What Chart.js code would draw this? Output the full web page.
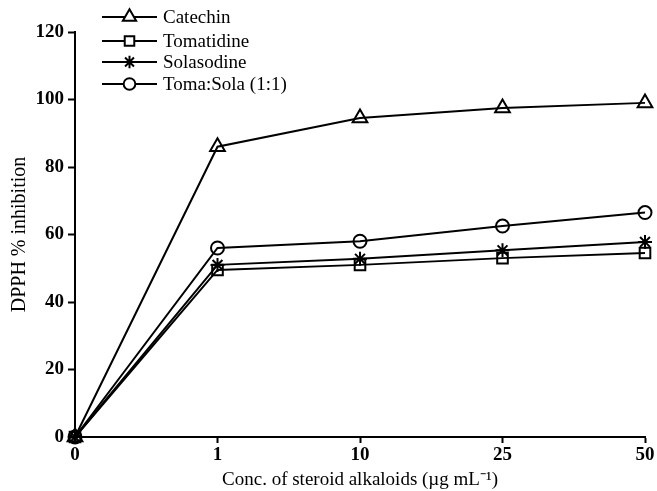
<!DOCTYPE html>
<html lang="en">
<head>
    <meta charset="UTF-8">
    <title>DPPH % inhibition</title>
    <script src="https://cdn.jsdelivr.net/npm/chart.js"></script>
    <style>
        body {
            margin: 0;
            padding: 0;
            background: #ffffff;
        }

        .chart-box {
            width: 657px;
            height: 491px;
            position: relative;
        }
    </style>
</head>
<body>
    <div class="chart-box">
        <canvas id="dpphChart"></canvas>
    </div>

    <script>
        // Data
        const concLabels = ['0', '1', '10', '25', '50'];
        const catechin = [0, 86, 94.5, 97.5, 99];
        const tomatidine = [0, 49.5, 51, 53, 54.5];
        const solasodine = [0, 51, 52.8, 55.3, 57.8];
        const tomaSola = [0, 56, 58, 62.5, 66.5];
        const yTicks = [0, 20, 40, 60, 80, 100, 120];

        const serif = "'Liberation Serif', 'Times New Roman', serif";

        function makeSet(label, data, style, radius) {
            return {
                label: label,
                data: data,
                borderColor: '#000',
                borderWidth: 2,
                pointStyle: style,
                pointRadius: radius,
                pointBorderWidth: 2,
                pointBorderColor: '#000',
                pointBackgroundColor: 'rgba(255,255,255,0)',
                tension: 0,
                clip: false
            };
        }

        const datasets = [
            makeSet('Catechin', catechin, 'triangle', 8.5),
            makeSet('Tomatidine', tomatidine, 'rect', 7.5),
            makeSet('Solasodine', solasodine, 'star', 7),
            makeSet('Toma:Sola (1:1)', tomaSola, 'circle', 6.5)
        ];

        // legend drawn as line + marker, like the printed figure
        const lineLegend = {
            id: 'lineLegend',
            afterDraw(chart) {
                const c = chart.ctx;
                const x0 = 102, x1 = 157, rowY = [17, 41, 62, 84];
                c.save();
                chart.data.datasets.forEach((ds, i) => {
                    const y = rowY[i];
                    c.strokeStyle = '#000';
                    c.lineWidth = 2;
                    c.beginPath();
                    c.moveTo(x0, y);
                    c.lineTo(x1, y);
                    c.stroke();
                    c.fillStyle = '#fff';
                    c.lineWidth = 2;
                    Chart.helpers.drawPoint(c, {
                        pointStyle: ds.pointStyle,
                        radius: ds.pointRadius * 0.9,
                        rotation: 0,
                        borderWidth: 2
                    }, (x0 + x1) / 2, y);
                    c.fillStyle = '#000';
                    c.font = '19px ' + serif;
                    c.textBaseline = 'middle';
                    c.fillText(ds.label, x1 + 6, y + 1);
                });
                c.restore();
            }
        };

        const ctx = document.getElementById('dpphChart').getContext('2d');
        const dpphChart = new Chart(ctx, {
            type: 'line',
            data: {
                labels: concLabels,
                datasets: datasets
            },
            options: {
                responsive: true,
                maintainAspectRatio: false,
                animation: false,
                layout: {
                    padding: { left: 0, right: 12, top: 32, bottom: 0 }
                },
                plugins: {
                    legend: { display: false },
                    tooltip: { enabled: false }
                },
                scales: {
                    x: {
                        offset: false,
                        border: { color: '#000', width: 2 },
                        grid: {
                            drawOnChartArea: false,
                            tickLength: 6,
                            tickWidth: 2,
                            tickColor: '#000'
                        },
                        ticks: {
                            color: '#000',
                            padding: 1,
                            maxRotation: 0,
                            font: { family: serif, size: 19, weight: 'bold' }
                        },
                        title: {
                            display: true,
                            text: 'Conc. of steroid alkaloids (\u00b5g mL\u207b\u00b9)',
                            color: '#000',
                            padding: { top: 2, bottom: 0 },
                            font: { family: serif, size: 19 }
                        },
                        afterFit(axis) {
                            axis.height = 54;
                        }
                    },
                    y: {
                        min: 0,
                        max: 120,
                        afterBuildTicks(axis) {
                            axis.ticks = yTicks.map(v => ({ value: v }));
                        },
                        border: { color: '#000', width: 2 },
                        grid: {
                            drawOnChartArea: false,
                            tickLength: 7,
                            tickWidth: 2,
                            tickColor: '#000'
                        },
                        ticks: {
                            color: '#000',
                            padding: 4,
                            font: { family: serif, size: 19, weight: 'bold' }
                        },
                        title: {
                            display: true,
                            text: 'DPPH % inhibition',
                            color: '#000',
                            padding: { top: 8, bottom: 4 },
                            font: { family: serif, size: 20 }
                        },
                        afterFit(axis) {
                            axis.width = 75;
                        }
                    }
                }
            },
            plugins: [lineLegend]
        });
    </script>
</body>
</html>
